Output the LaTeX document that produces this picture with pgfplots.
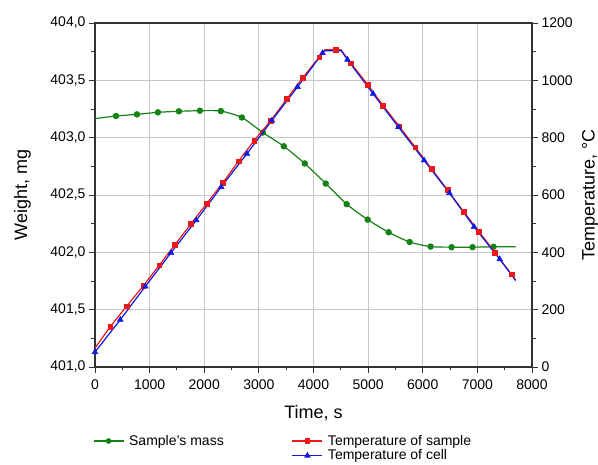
\documentclass[border=0pt]{standalone}
\usepackage{fontspec}
\setmainfont{Liberation Sans}
\usepackage{pgfplots}
\pgfplotsset{compat=1.18}

\definecolor{massgreen}{RGB}{20,130,20}
\definecolor{tsred}{RGB}{235,25,25}
\definecolor{tcblue}{RGB}{15,25,225}

\pgfplotsset{
  common/.style={
    scale only axis, width=437bp, height=344bp,
    xmin=0, xmax=8000,
    tick align=outside,
    major tick length=6bp, minor tick length=3.5bp,
    axis line style={line width=1.1bp, black!80},
    every tick/.style={black!80, line width=0.9bp},
    tick label style={font=\fontsize{14bp}{16bp}\selectfont},
    label style={font=\fontsize{18bp}{20bp}\selectfont},
    /pgf/number format/assume math mode=true,
    /pgf/number format/1000 sep={},
  },
}

\begin{document}
\begin{tikzpicture}
\begin{axis}[
  common,
  ymin=401, ymax=404,
  xtick={0,1000,2000,3000,4000,5000,6000,7000,8000},
  minor x tick num=1,
  ytick={401,401.5,402,402.5,403,403.5,404},
  minor y tick num=1,
  xtick pos=bottom, ytick pos=left,
  grid=major, major grid style={black!22, line width=0.8bp},
  x tick label style={yshift=-3bp},
  y tick label style={/pgf/number format/.cd, fixed, fixed zerofill, precision=1, use comma},
  xlabel={Time, s}, ylabel={Weight, mg},
  xlabel style={at={(axis description cs:0.5,-0.134)}, anchor=center},
  ylabel style={at={(axis description cs:-0.166,0.5)}, anchor=center},
]
% sample's mass
\addplot[massgreen, line width=1.2bp, smooth, tension=0.4, mark=*, mark size=2.6bp,
  mark indices={2,3,4,5,6,7,8,9,10,11,12,13,14,15,16,17,18,19,20}] coordinates {
  (0,403.166) (384,403.189) (768,403.203) (1152,403.221) (1536,403.230)
  (1920,403.235) (2304,403.232) (2688,403.176) (3072,403.045) (3456,402.925)
  (3840,402.775) (4224,402.600) (4608,402.420) (4992,402.285) (5376,402.175)
  (5760,402.090) (6144,402.050) (6528,402.045) (6912,402.045) (7296,402.048)
  (7700,402.048)
};
\end{axis}

\begin{axis}[
  common,
  ymin=0, ymax=1200,
  axis x line=none, axis y line*=right,
  ytick={0,200,400,600,800,1000,1200},
  minor y tick num=1,
  ylabel={Temperature, °C},
  ylabel style={at={(axis description cs:1.133,0.5)}, anchor=center},
  legend columns=2,
  legend cell align=left,
  legend style={draw=none, fill=none, at={(axis description cs:-0.012,-0.186)}, anchor=north west,
    font=\fontsize{14bp}{16bp}\selectfont, row sep=-1bp,
    /tikz/every even column/.append style={column sep=66bp}},
  legend image code/.code={\draw[mark repeat=2,mark phase=2,#1] plot coordinates {(0bp,0bp) (15bp,0bp) (30bp,0bp)};
    \path (33bp,0bp);},
]
% temperature of sample: line
\addplot[tsred, line width=1.2bp, forget plot] coordinates {
  (0,66) (280,141) (579,212) (884,283) (1177,355) (1464,427) (1756,499)
  (2043,570) (2342,643) (2628,718) (2915,790) (3220,860) (3512,935)
  (3799,1008) (4104,1081) (4210,1107) (4409,1107) (4500,1107) (4683,1060)
  (4988,986) (5274,912) (5567,840) (5860,767) (6159,692) (6451,618)
  (6744,543) (7031,472) (7323,399) (7622,324) (7701,302)
};
% temperature of cell: line
\addplot[tcblue, line width=1.2bp, forget plot] coordinates {
  (0,52) (463,165) (921,281) (1390,398) (1854,512) (2311,628) (2781,744)
  (3238,860) (3708,977) (4165,1095) (4200,1103) (4510,1103) (4622,1072)
  (5091,953) (5555,837) (6024,721) (6488,607) (6939,489) (7409,376) (7701,302)
};
% temperature of sample: marks
\addplot[tsred, only marks, mark=square*, mark size=2.4bp, forget plot] coordinates {
  (280,141) (579,212) (884,283) (1177,355) (1464,427) (1756,499)
  (2043,570) (2342,643) (2628,718) (2915,790) (3220,860) (3512,935)
  (3799,1008) (4104,1081) (4409,1107) (4683,1060)
  (4988,986) (5274,912) (5567,840) (5860,767) (6159,692) (6451,618)
  (6744,543) (7031,472) (7323,399) (7622,324)
};
% temperature of cell: marks
\addplot[tcblue, only marks, mark=triangle*, mark size=3.4bp, forget plot] coordinates {
  (0,52) (463,165) (921,281) (1390,398) (1854,512) (2311,628) (2781,744)
  (3238,860) (3708,977) (4165,1095) (4622,1072)
  (5091,953) (5555,837) (6024,721) (6488,607) (6939,489) (7409,376)
};
\addlegendimage{massgreen, line width=1.2bp, mark=*, mark size=2.2bp}
\addlegendentry{Sample's mass}
\addlegendimage{tsred, line width=1.2bp, mark=square*, mark size=2.2bp}
\addlegendentry{Temperature of sample}
\addlegendimage{empty legend}
\addlegendentry{}
\addlegendimage{tcblue, line width=1.2bp, mark=triangle*, mark size=2.6bp}
\addlegendentry{Temperature of cell}
\end{axis}
\pgfresetboundingbox
\path[use as bounding box] (-95bp,-98bp) rectangle (503bp,367bp);
\end{tikzpicture}
\end{document}
